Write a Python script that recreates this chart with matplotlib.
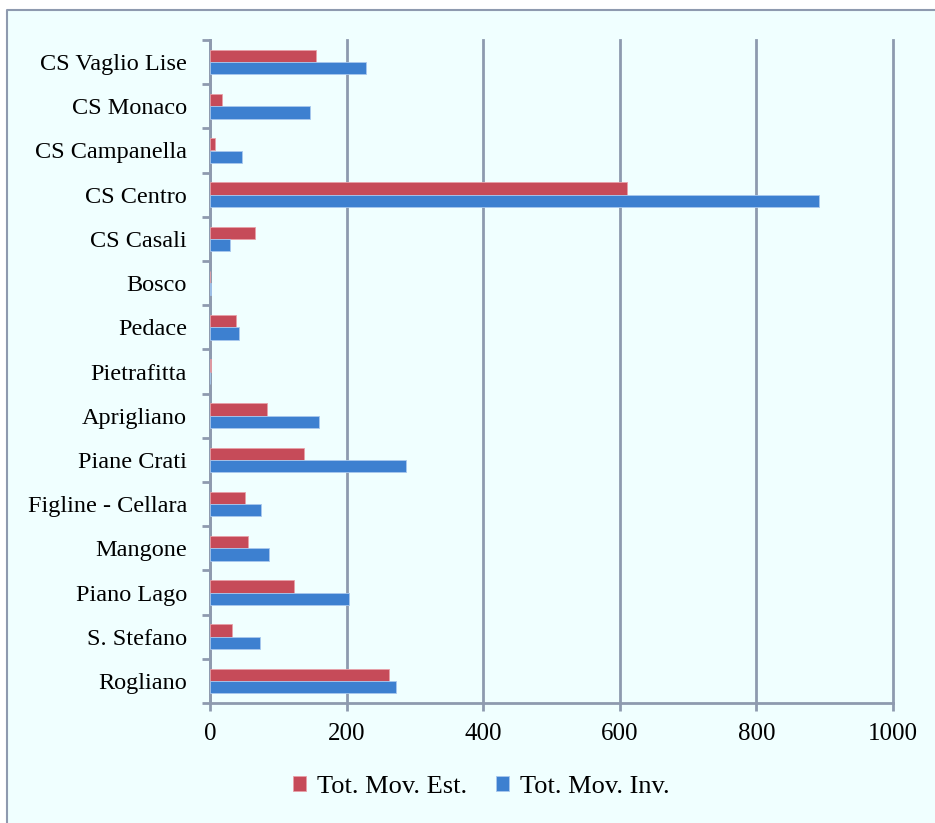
import matplotlib.pyplot as plt
import numpy as np
from matplotlib.ticker import FixedLocator
from matplotlib.lines import Line2D

# dati (dall'alto verso il basso)
zone = ["CS Vaglio Lise", "CS Monaco", "CS Campanella", "CS Centro", "CS Casali",
        "Bosco", "Pedace", "Pietrafitta", "Aprigliano", "Piane Crati",
        "Figline - Cellara", "Mangone", "Piano Lago", "S. Stefano", "Rogliano"]
mov_est = [155, 18, 8, 611, 66, 0, 38, 1, 84, 137, 51, 55, 123, 32, 262]
mov_inv = [228, 147, 47, 891, 30, 2, 43, 0, 160, 287, 75, 86, 203, 73, 272]

bg = "#F0FFFF"
grigio = "#8E9AAF"
rosso = "#C64B59"
blu = "#3D80D0"

plt.rcParams['font.family'] = ['Liberation Serif', 'DejaVu Serif']

fig = plt.figure(figsize=(9.35, 8.23), dpi=100, facecolor="white")

# sfondo e bordo esterno (solo sinistra e sopra)
x0, y0 = 7 / 935, 1 - 10 / 823
fig.patches.append(plt.Rectangle((x0, 0), 1 - x0, y0, transform=fig.transFigure,
                                 facecolor=bg, edgecolor="none", zorder=-10))
fig.add_artist(Line2D([x0, x0, 1], [0, y0, y0], transform=fig.transFigure,
                      color=grigio, linewidth=1.5, zorder=-5))

ax = fig.add_axes([210 / 935, 1 - 703 / 823, 683 / 935, 663 / 823])
ax.set_facecolor(bg)

n = len(zone)
y = np.arange(n)[::-1]
h = 0.28
ax.barh(y + h / 2, mov_est, height=h, color=rosso, edgecolor="#E8A0A8", linewidth=0.6,
        label="Tot. Mov. Est.", zorder=3)
ax.barh(y - h / 2, mov_inv, height=h, color=blu, edgecolor="#A8C8EE", linewidth=0.6,
        label="Tot. Mov. Inv.", zorder=3)

ax.set_xlim(0, 1000)
ax.set_ylim(-0.5, n - 0.5)
ax.set_xticks(range(0, 1001, 200))
ax.set_yticks(y)
ax.set_yticklabels(zone)
ax.yaxis.set_minor_locator(FixedLocator(np.arange(-0.5, n, 1)))
ax.tick_params(axis='y', which='major', length=0, pad=16.5, labelsize=17.5)
ax.tick_params(axis='y', which='minor', length=5.5, width=2, color=grigio)
ax.tick_params(axis='x', length=5.5, width=2, color=grigio, labelsize=18, pad=9)

ax.grid(axis='x', color=grigio, linewidth=2, zorder=0)
for gl in ax.get_xgridlines():
    gl.set_clip_on(False)
for s in ["top", "right"]:
    ax.spines[s].set_visible(False)
for s in ["left", "bottom"]:
    ax.spines[s].set_color(grigio)
    ax.spines[s].set_linewidth(2)

fig.legend(loc="center", bbox_to_anchor=(481 / 935, 1 - 787 / 823), ncol=2, frameon=False,
           fontsize=19, handlelength=0.5, handleheight=0.5, columnspacing=1.1,
           handletextpad=0.4)

fig.savefig("out.png", dpi=100, facecolor="white")
